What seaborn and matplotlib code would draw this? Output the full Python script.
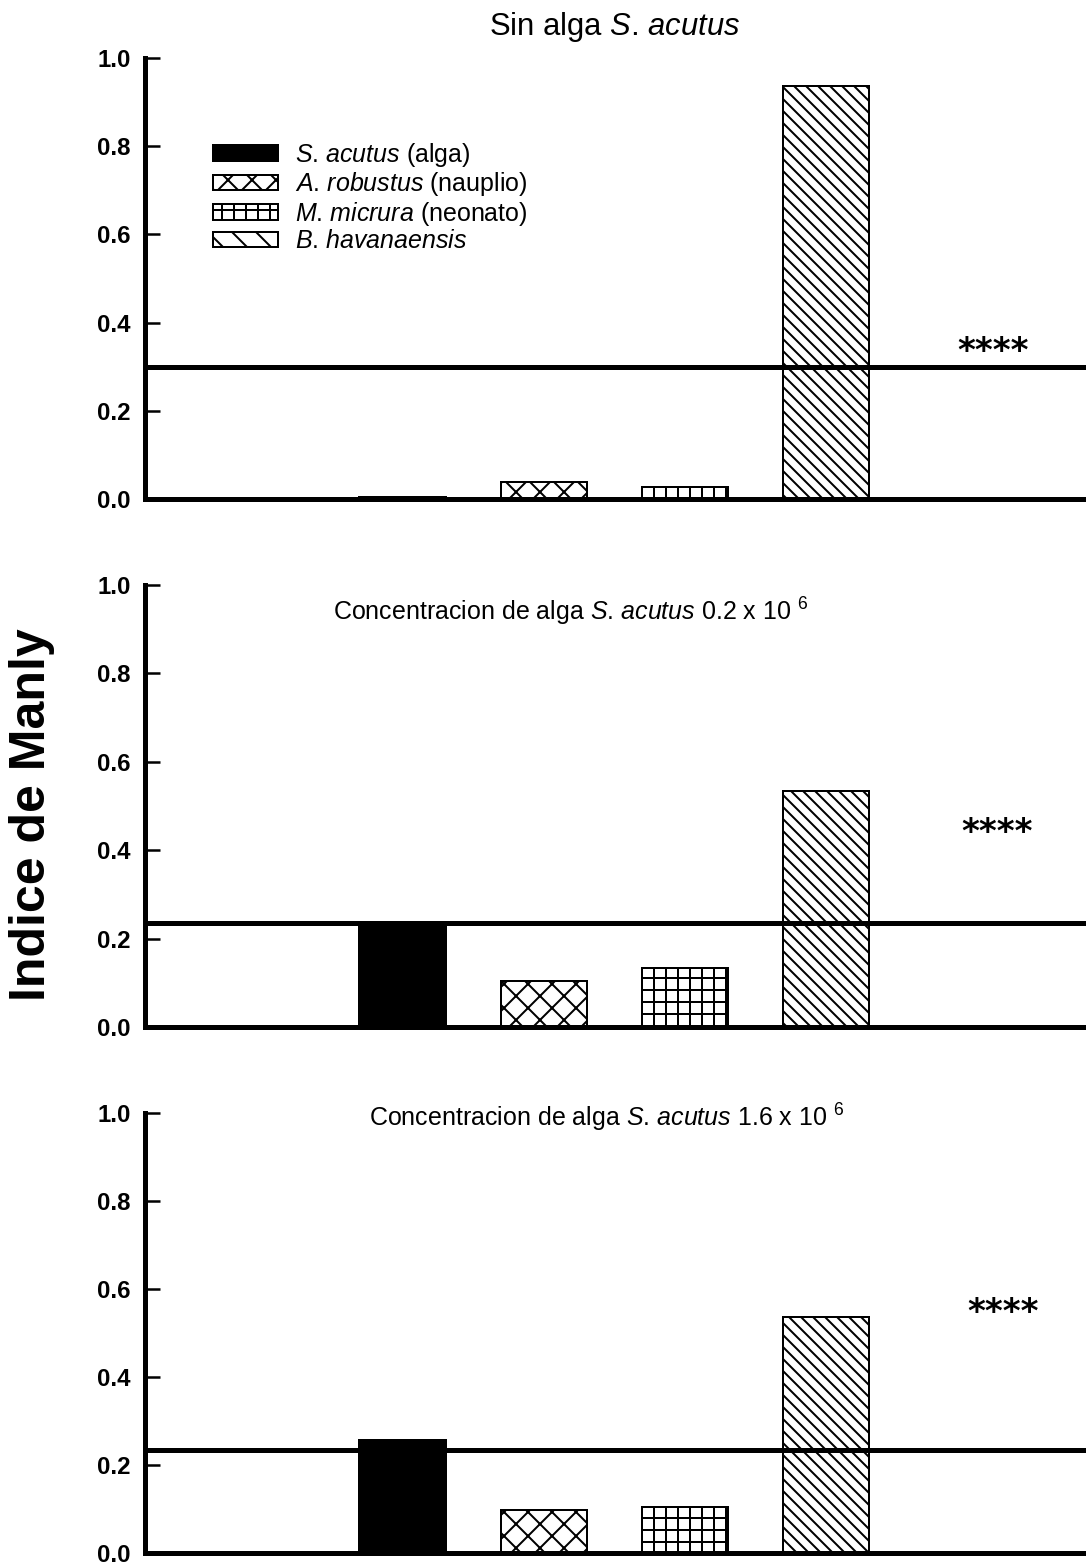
import matplotlib
matplotlib.use("Agg")
import matplotlib.pyplot as plt
from matplotlib.patches import Patch
import seaborn as sns
import pandas as pd

# ---------------- data ----------------
especies = ["S. acutus", "A. robustus", "M. micrura", "B. havanaensis"]
legend_labels = [r"$\mathit{S}$. $\mathit{acutus}$ (alga)",
                 r"$\mathit{A}$. $\mathit{robustus}$ (nauplio)",
                 r"$\mathit{M}$. $\mathit{micrura}$ (neonato)",
                 r"$\mathit{B}$. $\mathit{havanaensis}$"]
valores_sin_alga = [0.004, 0.038, 0.027, 0.937]
valores_02 = [0.226, 0.103, 0.133, 0.534]
valores_16 = [0.257, 0.098, 0.105, 0.536]
umbral = [0.300, 0.235, 0.233]
titulos = [r"Sin alga $\mathit{S}$. $\mathit{acutus}$",
           r"Concentracion de alga $\mathit{S}$. $\mathit{acutus}$ 0.2 x 10$\ ^{6}$",
           r"Concentracion de alga $\mathit{S}$. $\mathit{acutus}$ 1.6 x 10$\ ^{6}$"]
signif = ["****", "****", "****"]
signif_y = [0.335, 0.44, 0.546]
ytick_vals = [0.0, 0.2, 0.4, 0.6, 0.8, 1.0]

colores = ["black", "white", "white", "white"]
tramas = ["", "x", "+", "\\\\"]
tramas_leyenda = ["", "x", "+", "\\"]

# ---------------- style ----------------
sns.set_theme(style="white")
plt.rcParams["font.family"] = ["Liberation Sans", "DejaVu Sans"]
plt.rcParams["mathtext.fontset"] = "custom"
plt.rcParams["mathtext.rm"] = "Liberation Sans"
plt.rcParams["mathtext.it"] = "Liberation Sans:italic"
plt.rcParams["hatch.linewidth"] = 2.0
plt.rcParams["hatch.color"] = "black"
plt.rcParams["text.color"] = "black"
plt.rcParams["axes.labelcolor"] = "black"
plt.rcParams["ytick.color"] = "black"
plt.rcParams["xtick.color"] = "black"

DPI = 72
fig = plt.figure(figsize=(1086 / DPI, 1565 / DPI), dpi=DPI)
W, H = 1086, 1565
left = 145 / W
panels_px = [(58, 499), (585, 1027), (1113, 1553)]
axes = []
for top, bot in panels_px:
    ax = fig.add_axes([left, 1 - bot / H, 1 - left, (bot - top) / H])
    axes.append(ax)

datasets = [valores_sin_alga, valores_02, valores_16]
title_pos = [(0.4995, None, 31), (0.4527, 0.939, 25), (0.491, 0.989, 25)]
signif_x = [4.18, 4.21, 4.25]

for i, (ax, vals) in enumerate(zip(axes, datasets)):
    df = pd.DataFrame({"especie": especies, "valor": vals})
    sns.barplot(data=df, x="especie", y="valor", hue="especie",
                palette=dict(zip(especies, colores)), width=0.61,
                edgecolor="black", linewidth=2, legend=False, ax=ax,
                saturation=1)
    for cont, h in zip(ax.containers, tramas):
        for p in cont:
            p.set_hatch(h)
            p.set_edgecolor("black")
    ax.axhline(umbral[i], color="black", lw=5, zorder=5)
    ax.set_xlim(-1.824, 4.84)
    ax.set_ylim(0, 1.0)
    ax.set_xticks([])
    ax.set_xlabel("")
    ax.set_ylabel("")
    ax.set_yticks(ytick_vals)
    ax.set_yticklabels([f"{v:.1f}" for v in ytick_vals], fontsize=24,
                       fontweight="bold", color="black")
    ax.tick_params(axis="y", direction="in", length=15, width=2.5, pad=14,
                   colors="black", left=True)
    for s in ["top", "right"]:
        ax.spines[s].set_visible(False)
    for s in ["left", "bottom"]:
        ax.spines[s].set_linewidth(5)
        ax.spines[s].set_color("black")
    ax.text(signif_x[i], signif_y[i], signif[i], ha="center", va="center",
            fontsize=34, family="DejaVu Sans", fontweight="bold",
            color="black")
    tx, ty, fs = title_pos[i]
    if ty is None:
        fig.text(615 / W, 1 - 27 / H, titulos[i], ha="center", va="center",
                 fontsize=fs, color="black")
    else:
        ax.text(tx, ty, titulos[i], ha="center", va="center", fontsize=fs,
                transform=ax.transAxes, color="black")

handles = [Patch(facecolor=c, edgecolor="black", hatch=h, linewidth=2)
           for c, h in zip(colores, tramas_leyenda)]
leg = axes[0].legend(handles, legend_labels, loc="upper left",
                     bbox_to_anchor=(0.072, 0.812), frameon=False, fontsize=25,
                     handlelength=2.6, handleheight=0.56, labelspacing=0.06,
                     handletextpad=0.7, borderpad=0, borderaxespad=0)
for t in leg.get_texts():
    t.set_color("black")

fig.text(32 / W, 1 - 815 / H, "Indice de Manly", rotation=90, ha="center",
         va="center", fontsize=50, fontweight="bold", color="black")

fig.savefig("out.png", dpi=DPI, facecolor="white")
